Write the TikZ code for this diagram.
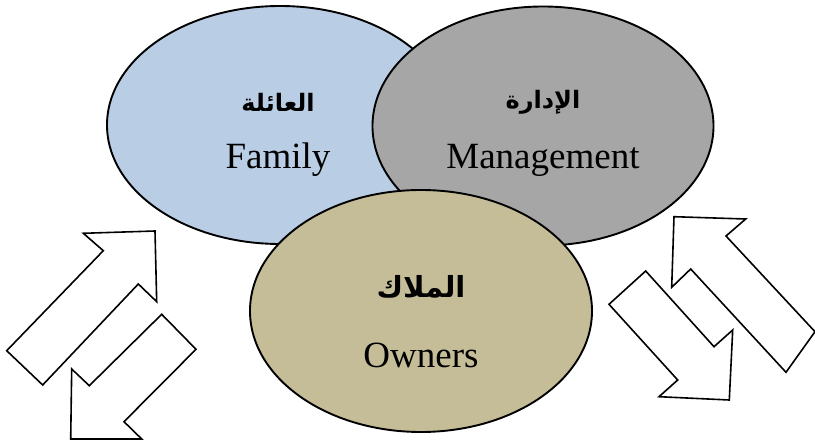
\documentclass[tikz,border=0pt]{standalone}
\usepackage{fontspec}
\setmainfont{Liberation Serif}
\newfontfamily\arabicfont[Script=Arabic]{DejaVu Sans}
\TeXXeTstate=1
\usetikzlibrary{shapes.geometric}
\definecolor{famcol}{HTML}{B9CDE5}
\definecolor{mancol}{HTML}{A6A6A6}
\definecolor{owncol}{HTML}{C4BD97}
\tikzset{
  circ/.style={ellipse, draw=black, line width=1.9pt, inner sep=0pt},
  bigarrow/.style={draw=black, fill=white, line width=1.6pt, line join=miter},
  entxt/.style={font=\fontsize{37}{40}\selectfont, inner sep=0pt},
  artxt/.style={font=\arabicfont\bfseries\fontsize{24}{28}\selectfont, inner sep=0pt},
  artxtbig/.style={font=\arabicfont\bfseries\fontsize{29}{33}\selectfont, inner sep=0pt}
}
\begin{document}
\begin{tikzpicture}[x=1pt,y=-1pt]
\useasboundingbox (0,0) rectangle (815,446);
% ellipses
\node[circ, fill=famcol, minimum width=346pt, minimum height=238pt] (fam) at (280,125) {};
\node[circ, fill=mancol, minimum width=341pt, minimum height=239pt] (man) at (543,126) {};
\node[circ, fill=owncol, minimum width=342pt, minimum height=242pt] (own) at (421,311) {};
% texts
\node[artxt] (famar) at (278,102) {\beginR العائلة\endR};
\node[entxt] (famen) at (278,160) {Family};
\node[artxt] (manar) at (543,102) {\beginR الإدارة\endR};
\node[entxt] (manen) at (543,160) {Management};
\node[artxtbig] (ownar) at (421,287) {\beginR الملاك\endR};
\node[entxt] (ownen) at (421,355) {Owners};
% left arrows
\draw[bigarrow] (83.3,233.3) -- (155,231) -- (156.7,301.7) -- (138.3,284) -- (42.7,385) -- (6.7,350.7) -- (103.3,250.7) -- cycle;
\draw[bigarrow] (161.7,314.3) -- (196,349.3) -- (124,421.7) -- (141.7,439) -- (70.7,439) -- (71.7,369) -- (89.3,385.7) -- cycle;
% right arrows
\draw[bigarrow] (674,216.7) -- (745.7,219) -- (726,236) -- (815,331.7) -- (786,372.3) -- (690.7,269) -- (671.7,287.3) -- cycle;
\draw[bigarrow] (645.7,271) -- (609,304.3) -- (677.7,380) -- (659,396.7) -- (729.3,400) -- (732.7,330) -- (714,346.7) -- cycle;
\end{tikzpicture}
\end{document}
